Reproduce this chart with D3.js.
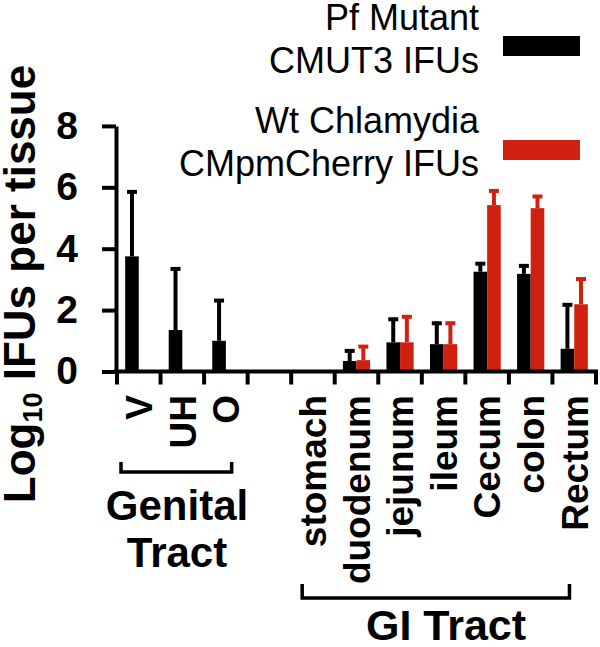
<!DOCTYPE html>
<html>
<head>
<meta charset="utf-8">
<script src="https://cdn.jsdelivr.net/npm/d3@7"></script>
<style>
  html, body { margin: 0; padding: 0; background: #fff; }
  svg { display: block; font-family: "Liberation Sans", Arial, sans-serif; }
</style>
</head>
<body>
<svg id="chart" width="600" height="647"></svg>
<script>
// ---- data ----
const categories = ["V", "UH", "O", "", "stomach", "duodenum", "jejunum", "ileum", "Cecum", "colon", "Rectum"];
const seriesNames = ["Pf Mutant CMUT3 IFUs", "Wt Chlamydia CMpmCherry IFUs"];
const mutantMean = [3.75, 1.35, 1.0, null, 0, 0.34, 0.95, 0.89, 3.25, 3.18, 0.74];
const mutantSD   = [2.15, 2.04, 1.36, null, 0, 0.38, 0.80, 0.73, 0.31, 0.31, 1.48];
const wtMean     = [null, null, null, null, 0, 0.37, 0.95, 0.89, 5.42, 5.32, 2.19];
const wtSD       = [null, null, null, null, 0, 0.49, 0.88, 0.73, 0.51, 0.43, 0.87];
const yTicks = [0, 2, 4, 6, 8];
const groups = [
  { name: ["Genital", "Tract"], from: "V", to: "O" },
  { name: ["GI Tract"], from: "stomach", to: "Rectum" }
];
const colors = ["#000000", "#d0200f"];

// ---- layout ----
const svg = d3.select("#chart");
const x = d3.scaleBand().domain(categories).range([117, 596]).padding(0);
const x1 = d3.scaleBand().domain([0, 1]).range([0, x.bandwidth()]).paddingInner(0).paddingOuter(0.6);
const y = d3.scaleLinear().domain([0, 8]).range([371.5, 125.9]);
const axisX = 116;

// bars
const rows = [];
categories.forEach((c, i) => {
  [[mutantMean, mutantSD], [wtMean, wtSD]].forEach(([m, s], k) => {
    if (m[i] != null) rows.push({ cat: c, k, mean: m[i], sd: s[i] });
  });
});

svg.append("g").selectAll("rect").data(rows.filter(d => d.mean > 0)).join("rect")
  .attr("x", d => x(d.cat) + x1(d.k))
  .attr("width", x1.bandwidth())
  .attr("y", d => y(d.mean))
  .attr("height", d => y(0) - y(d.mean))
  .attr("fill", d => colors[d.k]);

// error bars (upper only)
const eb = svg.append("g");
rows.filter(d => d.sd > 0).forEach(d => {
  const cx = x(d.cat) + x1(d.k) + x1.bandwidth() / 2;
  eb.append("line").attr("x1", cx).attr("x2", cx)
    .attr("y1", y(d.mean)).attr("y2", y(d.mean + d.sd))
    .attr("stroke", colors[d.k]).attr("stroke-width", 4);
  eb.append("line").attr("x1", cx - 5).attr("x2", cx + 5)
    .attr("y1", y(d.mean + d.sd) + 1.5).attr("y2", y(d.mean + d.sd) + 1.5)
    .attr("stroke", colors[d.k]).attr("stroke-width", 4);
});

// y axis
const yAxis = d3.axisLeft(y).tickValues(yTicks).tickFormat(d3.format("d"))
  .tickSize(14).tickSizeOuter(0).tickPadding(24);
const gy = svg.append("g").attr("transform", `translate(${axisX},0)`).call(yAxis);
gy.select(".domain").attr("stroke", "#000").attr("stroke-width", 4);
gy.selectAll(".tick line").attr("stroke", "#000").attr("stroke-width", 4);
gy.selectAll(".tick text").attr("font-size", 39).attr("font-weight", "bold")
  .attr("fill", "#000").attr("font-family", "Liberation Sans, Arial, sans-serif");

// x axis
const gx = svg.append("g");
gx.append("line").attr("x1", axisX - 2).attr("x2", x.range()[1] + 2)
  .attr("y1", y(0)).attr("y2", y(0)).attr("stroke", "#000").attr("stroke-width", 4);
const edges = categories.map(c => x(c)).concat([x.range()[1]]);
gx.selectAll("line.t").data(edges).join("line").attr("class", "t")
  .attr("x1", d => d).attr("x2", d => d)
  .attr("y1", y(0)).attr("y2", y(0) + 13)
  .attr("stroke", "#000").attr("stroke-width", 4);
gx.selectAll("text").data(categories.filter(c => c !== "")).join("text")
  .attr("transform", d => `translate(${x(d) + x.bandwidth() / 2},395) rotate(-90)`)
  .attr("text-anchor", "end").attr("dy", "0.36em")
  .attr("font-size", 37).attr("font-weight", "bold").text(d => d);

// y title
const yt = svg.append("text")
  .attr("transform", "translate(35,284) rotate(-90)")
  .attr("text-anchor", "middle").attr("font-size", 44).attr("font-weight", "bold");
yt.append("tspan").text("Log");
yt.append("tspan").attr("font-size", 27).attr("dy", 7).text("10");
yt.append("tspan").attr("dy", -7).text(" IFUs per tissue");

// group brackets
const br = svg.append("g").attr("stroke", "#000").attr("stroke-width", 3.5).attr("fill", "none");
const bracketSpec = [
  { x0: x("V") + 4, x1: x("O") + x.bandwidth() - 16, yTop: 462, yBot: 472, labelX: 177, baselines: [520, 567], size: 42 },
  { x0: x("stomach") + 11, x1: x("Rectum") + 17, yTop: 584, yBot: 598, labelX: 446, baselines: [640], size: 43 }
];
groups.forEach((g, i) => {
  const b = bracketSpec[i];
  br.append("path").attr("d", `M${b.x0},${b.yTop}V${b.yBot}H${b.x1}V${b.yTop}`);
  g.name.forEach((line, j) => {
    svg.append("text").attr("x", b.labelX).attr("y", b.baselines[j])
      .attr("text-anchor", "middle").attr("font-size", b.size).attr("font-weight", "bold").text(line);
  });
});

// legend
const legendLines = [["Pf Mutant", "CMUT3 IFUs"], ["Wt Chlamydia", "CMpmCherry IFUs"]];
const legBase = [[30, 73], [133, 176]];
const swatchY = [36, 140];
legendLines.forEach((lines, i) => {
  lines.forEach((t, j) => {
    svg.append("text").attr("x", 479).attr("y", legBase[i][j]).attr("text-anchor", "end")
      .attr("font-size", 36).text(t);
  });
  svg.append("rect").attr("x", 503).attr("y", swatchY[i]).attr("width", 77).attr("height", 20)
    .attr("fill", colors[i]);
});
</script>
</body>
</html>
